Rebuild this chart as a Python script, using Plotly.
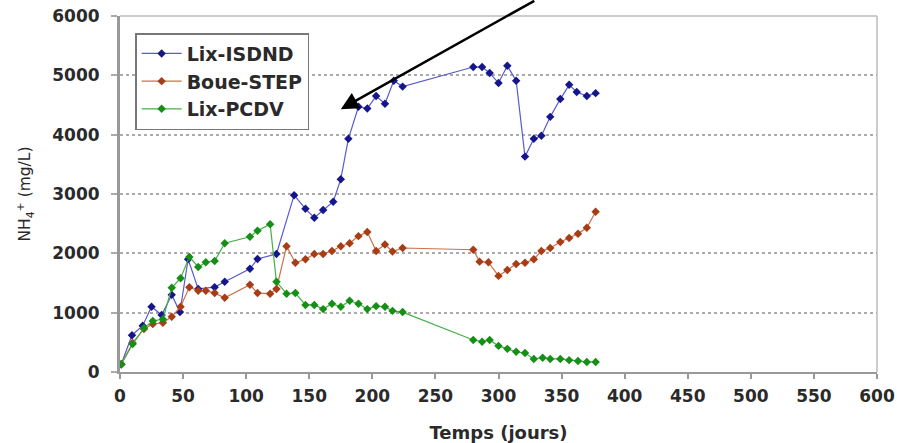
import plotly.graph_objects as go

# Lix-ISDND
days_isdnd = [1, 9.5, 18, 25, 33, 41, 47.5, 54, 62, 75, 83, 103, 109, 124, 138, 147, 154, 161, 169, 175,
              181, 189, 196, 203, 210, 217, 224, 280, 287, 293, 300, 307, 314, 321, 328, 334, 341, 349,
              356, 362, 370, 377]
nh4_isdnd = [130, 620, 780, 1100, 960, 1300, 1010, 1900, 1400, 1430, 1520, 1740, 1905, 1990, 2980, 2750,
             2600, 2730, 2870, 3250, 3930, 4470, 4440, 4650, 4520, 4910, 4810, 5140, 5140, 5040, 4870,
             5160, 4910, 3630, 3930, 3980, 4300, 4600, 4840, 4720, 4650, 4700]

# Boue-STEP
days_step = [1, 10, 19, 26, 34, 41, 48, 55, 62, 68, 75, 83, 103, 109, 119, 124, 132, 139, 147, 154, 161,
             168, 175, 182, 189, 196, 203, 210, 216, 224, 280, 285, 292, 300, 307, 314, 321, 328, 334,
             341, 349, 356, 363, 370, 377]
nh4_step = [130, 490, 725, 810, 830, 930, 1100, 1430, 1370, 1370, 1330, 1250, 1470, 1330, 1320, 1400,
            2120, 1840, 1900, 1990, 1990, 2040, 2120, 2170, 2290, 2360, 2040, 2150, 2030, 2090, 2060,
            1860, 1850, 1620, 1720, 1820, 1840, 1900, 2040, 2090, 2190, 2260, 2330, 2430, 2700]

# Lix-PCDV
days_pcdv = [1, 10, 19, 26, 34, 41, 48, 55, 62, 68, 75, 83, 103, 109, 119, 124, 132, 139, 147, 154, 161,
             168, 175, 182, 189, 196, 203, 210, 216, 224, 280, 287, 293, 300, 307, 314, 321, 328, 335,
             341, 349, 356, 363, 370, 377]
nh4_pcdv = [130, 470, 740, 860, 890, 1420, 1580, 1940, 1770, 1850, 1870, 2170, 2280, 2380, 2490, 1520,
            1320, 1330, 1130, 1130, 1060, 1150, 1100, 1200, 1150, 1060, 1110, 1100, 1030, 1010, 540,
            510, 540, 440, 390, 340, 320, 220, 240, 220, 220, 200, 185, 170, 170]

series_names = ["Lix-ISDND", "Boue-STEP", "Lix-PCDV"]
x_ticks = list(range(0, 601, 50))
y_ticks = list(range(0, 6001, 1000))

styles = [
    dict(line="#5a5ad0", marker="#16168c"),
    dict(line="#cc7048", marker="#a83c14"),
    dict(line="#44b044", marker="#158f15"),
]

FONT = "DejaVu Sans, Verdana, sans-serif"

fig = go.Figure()
for i, (name, xs, ys) in enumerate(zip(series_names,
                                       [days_isdnd, days_step, days_pcdv],
                                       [nh4_isdnd, nh4_step, nh4_pcdv])):
    fig.add_trace(go.Scatter(
        x=xs, y=ys, name=name, mode="lines+markers", legendgroup=name,
        line=dict(color=styles[i]["line"], width=1.2),
        marker=dict(color=styles[i]["marker"], size=6.5, symbol="diamond"),
    ))

tick_font = dict(family=FONT, size=17, color="#2a2a2a", weight="bold")

fig.update_layout(
    width=897, height=443,
    margin=dict(l=120, r=20, t=16, b=71),
    plot_bgcolor="white", paper_bgcolor="white",
    showlegend=True,
    legend=dict(
        x=0.02, y=0.952, xanchor="left", yanchor="top",
        bgcolor="white", bordercolor="#777", borderwidth=1.5,
        font=dict(family=FONT, size=19, color="#2a2a2a", weight="bold"),
        traceorder="grouped", tracegroupgap=0, itemwidth=40,
    ),
    xaxis=dict(
        range=[0, 600], tickvals=x_ticks, ticktext=[str(v) for v in x_ticks],
        showgrid=False, zeroline=False, automargin=False,
        showline=True, linecolor="#999", linewidth=2,
        ticks="outside", ticklen=5, tickcolor="#999", tickwidth=1.5,
        ticklabelposition="outside", ticklabelstandoff=3, ticklabeloverflow="allow",
        tickfont=tick_font,
        title=dict(text="Temps (jours)", standoff=22,
                   font=dict(family=FONT, size=18, color="#2a2a2a", weight="bold")),
    ),
    yaxis=dict(
        range=[0, 6000], tickvals=y_ticks, ticktext=[str(v) for v in y_ticks],
        showgrid=True, gridcolor="#aaa", griddash="dot", gridwidth=1.5,
        zeroline=False, automargin=False,
        showline=True, linecolor="#999", linewidth=3,
        ticks="outside", ticklen=6, tickcolor="#aaa", tickwidth=1.5,
        ticklabelposition="outside", ticklabelstandoff=8, ticklabeloverflow="allow",
        tickfont=tick_font,
        title=dict(text="NH<sub>4</sub><sup>+</sup> (mg/L)", standoff=18,
                   font=dict(family=FONT, size=15.5, color="#2a2a2a")),
    ),
    shapes=[
        dict(type="line", xref="paper", yref="paper", x0=0, x1=1, y0=1, y1=1,
             line=dict(color="#bbb", width=1.5)),
        dict(type="line", xref="paper", yref="paper", x0=1, x1=1, y0=0, y1=1,
             line=dict(color="#bbb", width=1.5)),
    ],
    annotations=[
        dict(x=175, y=4430, xref="x", yref="y", text="", showarrow=True,
             ax=195, ay=-112, axref="pixel", ayref="pixel",
             arrowhead=2, arrowsize=1.4, arrowwidth=2.5, arrowcolor="black"),
    ],
)

# remove the browser's default 8px body margin so the figure fills the window exactly
fig.write_html("out.html", config={"displayModeBar": False},
               post_script="document.body.style.margin='0';document.body.style.overflow='hidden';")
